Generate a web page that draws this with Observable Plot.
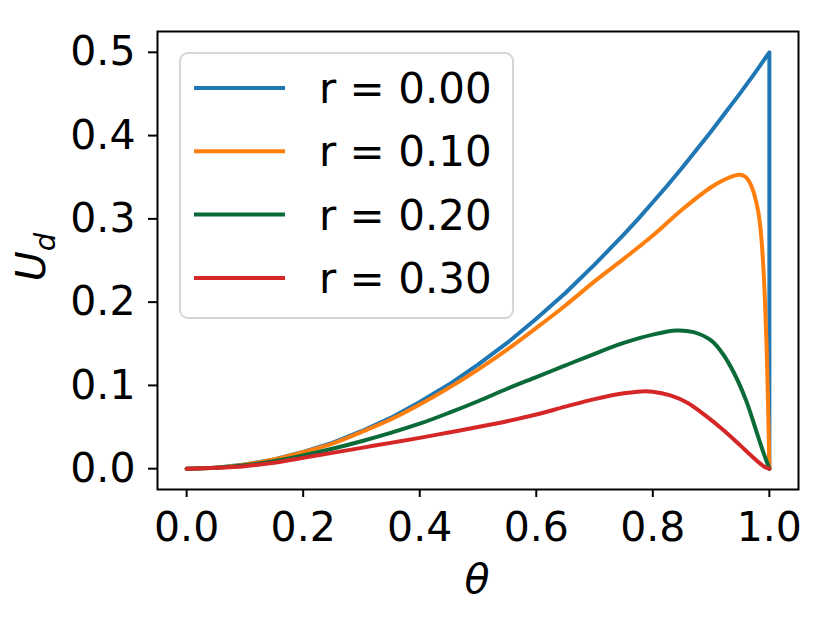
<!DOCTYPE html>
<html>
<head>
<meta charset="utf-8">
<script src="https://cdn.jsdelivr.net/npm/d3@7"></script>
<script src="https://cdn.jsdelivr.net/npm/@observablehq/plot@0.6"></script>
<style>
  html, body { margin: 0; padding: 0; background: #fff; }
  #chart { width: 830px; height: 623px; }
</style>
</head>
<body>
<div id="chart"></div>
<script>
// ---- data ----
const seriesLabels = ["r = 0.00", "r = 0.10", "r = 0.20", "r = 0.30"];
const seriesColors = ["#1f77b4", "#ff7f0e", "#0b6b38", "#d62728"];

const theta0 = [0, 0.05, 0.1, 0.15, 0.2, 0.25, 0.3, 0.35, 0.4, 0.45, 0.5, 0.55, 0.6, 0.65, 0.7, 0.725, 0.75, 0.775, 0.8, 0.825, 0.85, 0.875, 0.9, 0.925, 0.95, 0.975, 1.0, 1.0];
const u0     = [0, 0.001, 0.005, 0.011, 0.020, 0.031, 0.045, 0.061, 0.080, 0.101, 0.125, 0.151, 0.180, 0.211, 0.245, 0.263, 0.281, 0.300, 0.320, 0.340, 0.361, 0.383, 0.405, 0.428, 0.451, 0.475, 0.500, 0.000];

const theta1 = [0, 0.05, 0.1, 0.15, 0.2, 0.25, 0.3, 0.35, 0.4, 0.45, 0.5, 0.55, 0.6, 0.65, 0.7, 0.75, 0.8, 0.85, 0.9, 0.92, 0.94, 0.95, 0.96, 0.97, 0.98, 0.985, 0.99, 0.995, 0.998, 1.0];
const u1     = [0, 0.001, 0.005, 0.011, 0.0197, 0.030, 0.044, 0.059, 0.077, 0.097, 0.119, 0.143, 0.169, 0.196, 0.225, 0.252, 0.280, 0.311, 0.338, 0.346, 0.352, 0.353, 0.350, 0.338, 0.312, 0.287, 0.238, 0.152, 0.07, 0];

const theta2 = [0, 0.05, 0.1, 0.15, 0.2, 0.25, 0.3, 0.35, 0.4, 0.45, 0.5, 0.55, 0.6, 0.65, 0.7, 0.75, 0.8, 0.84, 0.87, 0.9, 0.92, 0.94, 0.96, 0.98, 0.99, 1.0];
const u2     = [0, 0.001, 0.004, 0.009, 0.016, 0.024, 0.033, 0.043, 0.054, 0.067, 0.081, 0.096, 0.110, 0.124, 0.138, 0.151, 0.161, 0.166, 0.164, 0.154, 0.138, 0.114, 0.082, 0.040, 0.019, 0];

const theta3 = [0, 0.05, 0.1, 0.15, 0.2, 0.25, 0.3, 0.35, 0.4, 0.45, 0.5, 0.55, 0.6, 0.65, 0.7, 0.75, 0.78, 0.8, 0.83, 0.86, 0.89, 0.92, 0.95, 0.97, 0.99, 1.0];
const u3     = [0, 0.001, 0.003, 0.007, 0.013, 0.019, 0.025, 0.031, 0.037, 0.0435, 0.050, 0.057, 0.0650, 0.0745, 0.0835, 0.0905, 0.0928, 0.0925, 0.088, 0.079, 0.064, 0.047, 0.028, 0.015, 0.003, 0];

const xTicks = [0, 0.2, 0.4, 0.6, 0.8, 1.0];
const yTicks = [0, 0.1, 0.2, 0.3, 0.4, 0.5];

// ---- build table ----
const thetas = [theta0, theta1, theta2, theta3];
const us = [u0, u1, u2, u3];
const rows = [];
thetas.forEach((ts, i) => ts.forEach((t, j) => rows.push({series: seriesLabels[i], theta: t, u: us[i][j]})));

const FONT = "DejaVu Sans, Liberation Sans, sans-serif";
const fmt = d3.format(".1f");

const chart = Plot.plot({
  width: 830,
  height: 623,
  marginLeft: 157,
  marginRight: 32,
  marginTop: 31,
  marginBottom: 134,
  style: {fontFamily: FONT, fontSize: "41px", color: "black", background: "white"},
  x: {domain: [-0.05, 1.05], label: null},
  y: {domain: [-0.025, 0.525], label: null},
  color: {domain: seriesLabels, range: seriesColors},
  marks: [
    Plot.axisX({ticks: xTicks, tickFormat: fmt, tickSize: 8, tickPadding: 14, strokeWidth: 2, fontSize: 41, label: null}),
    Plot.axisY({ticks: yTicks, tickFormat: fmt, tickSize: 9, tickPadding: 13, strokeWidth: 2, fontSize: 41, label: null}),
    Plot.line(rows.filter(d => d.series === seriesLabels[0]), {x: "theta", y: "u", z: "series", stroke: "series", strokeWidth: 4, curve: "linear", strokeLinejoin: "round", strokeLinecap: "round"}),
    Plot.line(rows.filter(d => d.series !== seriesLabels[0]), {x: "theta", y: "u", z: "series", stroke: "series", strokeWidth: 4, curve: "catmull-rom", strokeLinejoin: "round", strokeLinecap: "round"}),
    Plot.frame({stroke: "black", strokeWidth: 2})
  ]
});

document.getElementById("chart").appendChild(chart);

// ---- axis labels & legend ----
const svg = d3.select(chart);
svg.append("text")
  .attr("x", 477).attr("y", 593)
  .attr("text-anchor", "middle")
  .attr("font-family", FONT).attr("font-size", 41).attr("font-style", "italic")
  .attr("fill", "black")
  .text("θ");

const yl = svg.append("text")
  .attr("transform", "translate(45,257) rotate(-90)")
  .attr("text-anchor", "middle")
  .attr("font-family", FONT).attr("font-size", 41).attr("font-style", "italic")
  .attr("fill", "black");
yl.append("tspan").text("U");
yl.append("tspan").attr("font-size", 29).attr("dy", 10).text("d");

const lg = svg.append("g");
lg.append("rect")
  .attr("x", 180).attr("y", 53).attr("width", 333).attr("height", 265)
  .attr("rx", 8).attr("ry", 8)
  .attr("fill", "white").attr("fill-opacity", 0.8)
  .attr("stroke", "#d6d6d6").attr("stroke-width", 2);
seriesLabels.forEach((lab, i) => {
  const y = 88 + i * 63.3;
  lg.append("line")
    .attr("x1", 194).attr("x2", 285).attr("y1", y).attr("y2", y)
    .attr("stroke", seriesColors[i]).attr("stroke-width", 4);
  lg.append("text")
    .attr("x", 319).attr("y", y + 15)
    .attr("text-anchor", "start")
    .attr("font-family", FONT).attr("font-size", 42)
    .attr("fill", "black")
    .text(lab);
});
</script>
</body>
</html>
